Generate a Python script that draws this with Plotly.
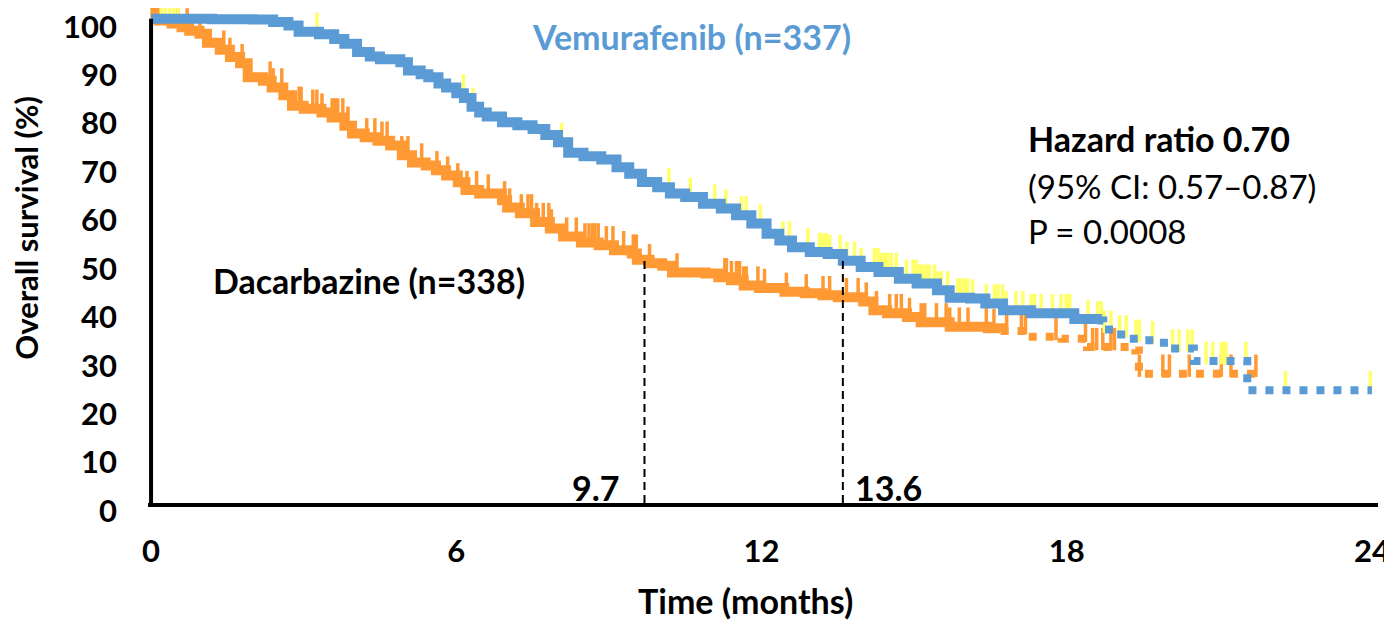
import numpy as np
import plotly.graph_objects as go

# ---------------- data ----------------
# Vemurafenib Kaplan-Meier steps (months, % surviving) - solid part
vem_t = [0, 1.2, 2.0, 2.4, 2.7, 2.9, 3.3, 3.6, 3.8, 4.05, 4.3, 4.5, 4.9, 5.05, 5.3, 5.45,
         5.65, 5.8, 6.0, 6.15, 6.3, 6.45, 6.6, 6.9, 7.2, 7.5, 7.75, 8.0, 8.2, 8.5, 8.85,
         9.15, 9.4, 9.65, 9.95, 10.2, 10.5, 10.85, 11.2, 11.5, 11.8, 12.1, 12.35, 12.6,
         12.95, 13.3, 13.6, 13.95, 14.3, 14.7, 15.05, 15.45, 15.7, 16.1, 16.4, 16.75,
         17.3, 18.15, 18.6]
vem_s = [100, 99.9, 99.8, 99.3, 98.6, 97.3, 96.8, 95.8, 94.8, 93.1, 92.2, 91.6, 91.0, 89.3,
         88.5, 87.9, 86.6, 85.8, 84.6, 83.6, 81.8, 80.6, 79.8, 78.6, 78.0, 77.2, 76.0, 74.5,
         72.3, 71.6, 70.9, 69.3, 68.0, 66.3, 65.2, 63.9, 63.2, 61.8, 60.8, 59.4, 57.7, 55.6,
         54.2, 52.8, 51.8, 51.4, 50.0, 48.7, 47.7, 46.3, 45.3, 43.9, 42.4, 42.2, 41.2, 39.8,
         39.2, 38.0, 37.7]
# Vemurafenib tail (few patients at risk, dotted)
vem_tail_t = [18.6, 18.72, 18.95, 19.2, 19.5, 19.8, 20.0, 20.5, 21.55, 24.0]
vem_tail_s = [37.7, 35.8, 34.8, 33.9, 33.6, 33.1, 31.9, 29.3, 23.3, 23.3]

# Dacarbazine Kaplan-Meier steps - solid part
dac_t = [0, 0.15, 0.4, 0.6, 0.75, 0.95, 1.1, 1.35, 1.55, 1.75, 1.9, 2.2, 2.37, 2.6, 2.77,
         3.0, 3.35, 3.55, 3.8, 3.95, 4.2, 4.45, 4.7, 4.93, 5.13, 5.4, 5.6, 5.8, 6.03, 6.18,
         6.45, 6.9, 7.0, 7.25, 7.55, 7.84, 8.1, 8.45, 8.8, 9.1, 9.45, 9.55, 9.8, 10.05,
         10.24, 10.9, 11.15, 11.4, 11.65, 11.95, 12.45, 12.85, 13.2, 13.5, 14.0, 14.2,
         14.47, 14.86, 15.13, 15.7, 16.45, 16.7]
dac_s = [100, 99.6, 99.0, 98.2, 97.5, 96.9, 95.0, 93.6, 92.1, 90.8, 87.9, 87.2, 85.8, 84.2,
         82.0, 81.4, 80.6, 79.6, 77.9, 76.3, 75.5, 74.8, 73.8, 71.8, 70.3, 69.7, 68.7, 67.6,
         66.2, 64.6, 63.9, 62.5, 61.0, 59.8, 58.0, 56.7, 55.0, 53.8, 53.2, 52.2, 51.5, 50.2,
         49.5, 49.0, 47.6, 47.4, 46.6, 46.0, 44.9, 44.4, 43.6, 43.3, 42.9, 42.5, 41.6, 39.8,
         39.2, 38.4, 37.3, 36.4, 36.1, 35.5]
# Dacarbazine tail (dotted)
dac_tail_t = [16.7, 17.25, 17.9, 18.4, 19.35, 19.42, 21.72]
dac_tail_s = [35.5, 34.3, 33.9, 32.2, 31.5, 26.7, 26.7]

# censoring times (months)
dac_cens = [0.02, 0.08, 0.14, 0.53, 0.71, 0.96, 1.43, 1.55, 1.79, 2.34, 2.4, 2.57, 2.91,
            2.95, 3.18, 3.26, 3.36, 3.56, 3.61, 3.67, 3.77, 3.87, 4.24, 4.4, 4.54, 4.64,
            4.93, 5.05, 5.32, 5.62, 5.83, 6.03, 6.21, 6.4, 6.63, 6.95, 7.05, 7.28, 7.41,
            7.48, 7.58, 7.71, 7.82, 7.87, 8.17, 8.36, 8.53, 8.61, 8.68, 8.72, 8.79, 8.95,
            9.08, 9.29, 9.48, 9.54, 9.8, 10.34, 11.28, 11.31, 11.41, 11.51, 11.57, 11.65,
            11.7, 11.93, 12.06, 12.49, 12.88, 13.21, 13.34, 13.67, 13.9, 14.06, 14.26,
            14.52, 14.65, 14.75, 14.91, 15.14, 15.21, 15.44, 15.63, 15.7, 15.89, 16.06,
            16.42, 16.57, 16.82, 17.11, 17.19, 17.79, 18.37, 18.51, 18.59, 18.71, 18.87,
            18.94, 19.43, 19.89, 20.02, 20.41, 21.04, 21.23, 21.72]
vem_cens = [0.2, 0.28, 0.37, 0.45, 0.53, 3.26, 6.14, 6.33, 8.07, 10.18, 10.6, 11.08, 11.3,
            11.6, 11.7, 11.98, 12.42, 12.55, 12.91, 13.14, 13.21, 13.27, 13.34, 13.55,
            13.68, 13.83, 13.96, 14.22, 14.29, 14.35, 14.42, 14.48, 14.55, 14.65, 14.85,
            14.98, 15.04, 15.11, 15.17, 15.24, 15.3, 15.4, 15.47, 15.53, 15.66, 15.86,
            15.92, 15.99, 16.05, 16.15, 16.42, 16.58, 16.65, 16.74, 16.81, 17.0, 17.14,
            17.3, 17.37, 17.5, 17.72, 17.89, 17.99, 18.06, 18.42, 18.61, 18.68, 18.74,
            18.87, 19.04, 19.17, 19.36, 19.43, 19.69, 20.08, 20.21, 20.38, 20.47, 20.74,
            20.87, 21.04, 21.1, 21.13, 21.52, 22.3, 23.97]

medians = [9.7, 13.6]            # Dacarbazine, Vemurafenib median OS (months)
x_ticks = [0, 6, 12, 18, 24]
y_ticks = list(range(0, 101, 10))

BLUE = "#5B9BD5"
ORANGE = "#FF9933"
YELLOW = "#FFFF66"
FONT = "Lato"
TICK_H = 3.3   # censor tick height (% units)
TICK_PX = 16   # same height in pixels


def km_value(times, surv, t):
    idx = np.searchsorted(np.asarray(times), t, side="right") - 1
    return float(np.asarray(surv)[max(idx, 0)])


def tick_centres(cens, times, surv):
    return [km_value(times, surv, t) + TICK_H / 2 for t in cens]


vem_all_t = vem_t + vem_tail_t[1:]
vem_all_s = vem_s + vem_tail_s[1:]
dac_all_t = dac_t + dac_tail_t[1:]
dac_all_s = dac_s + dac_tail_s[1:]

fig = go.Figure()

# orange censor ticks
fig.add_trace(go.Scatter(x=dac_cens, y=tick_centres(dac_cens, dac_all_t, dac_all_s),
                         mode="markers", cliponaxis=False,
                         marker=dict(symbol="line-ns", size=TICK_PX,
                                     line=dict(color=ORANGE, width=3.5)),
                         hoverinfo="skip", showlegend=False))
# Dacarbazine curve
fig.add_trace(go.Scatter(x=dac_t, y=dac_s, mode="lines", line_shape="hv",
                         line=dict(color=ORANGE, width=10), name="Dacarbazine",
                         showlegend=False))
fig.add_trace(go.Scatter(x=dac_tail_t, y=dac_tail_s, mode="lines", line_shape="hv",
                         line=dict(color=ORANGE, width=8, dash="8px,9px"),
                         showlegend=False))
# yellow censor ticks (Vemurafenib)
fig.add_trace(go.Scatter(x=vem_cens, y=tick_centres(vem_cens, vem_all_t, vem_all_s),
                         mode="markers", cliponaxis=False,
                         marker=dict(symbol="line-ns", size=TICK_PX,
                                     line=dict(color=YELLOW, width=3.5)),
                         hoverinfo="skip", showlegend=False))
# Vemurafenib curve
fig.add_trace(go.Scatter(x=vem_t, y=vem_s, mode="lines", line_shape="hv",
                         line=dict(color=BLUE, width=10), name="Vemurafenib",
                         showlegend=False))
fig.add_trace(go.Scatter(x=vem_tail_t, y=vem_tail_s, mode="lines", line_shape="hv",
                         line=dict(color=BLUE, width=8, dash="8px,9px"),
                         showlegend=False))

# median dashed drop lines
med_vals = [km_value(dac_all_t, dac_all_s, medians[0]), km_value(vem_all_t, vem_all_s, medians[1])]
for m, v in zip(medians, med_vals):
    fig.add_trace(go.Scatter(x=[m, m], y=[0, v], mode="lines",
                             line=dict(color="black", width=2, dash="8px,5px"),
                             hoverinfo="skip", showlegend=False))

# y axis line (only up to 100)
fig.add_shape(type="line", xref="x", yref="y", x0=0, x1=0, y0=0, y1=100,
              line=dict(color="black", width=4), layer="above")

bold = dict(family=FONT, size=34, color="black")
reg = dict(family=FONT, size=33, color="black")
ann = [
    dict(x=10.63, y=96.4, text="<b>Vemurafenib (n=337)</b>", xanchor="center",
         font=dict(family=FONT, size=34, color=BLUE)),
    dict(x=4.29, y=46.0, text="<b>Dacarbazine (n=338)</b>", xanchor="center", font=bold),
    dict(x=17.2, y=75.2, text="<b>Hazard ratio 0.70</b>", xanchor="left", font=bold),
    dict(x=17.2, y=65.4, text="(95% CI: 0.57\u20130.87)", xanchor="left", font=reg),
    dict(x=17.2, y=56.1, text="P = 0.0008", xanchor="left", font=reg),
    dict(x=medians[0], y=3.3, text="<b>9.7</b>", xanchor="right", xshift=-22, font=bold),
    dict(x=medians[1], y=3.3, text="<b>13.6</b>", xanchor="left", xshift=10, font=bold),
]
for a in ann:
    fig.add_annotation(xref="x", yref="y", showarrow=False, yanchor="middle", **a)

# axis titles
fig.add_annotation(xref="paper", yref="paper", x=0.4854, y=0, yshift=-97,
                   text="<b>Time (months)</b>", showarrow=False,
                   xanchor="center", yanchor="middle", font=dict(family=FONT, size=34, color="black"))
fig.add_annotation(xref="paper", yref="paper", x=-0.0992, y=0.556,
                   text="<b>Overall survival (%)</b>", showarrow=False, textangle=-90,
                   xanchor="center", yanchor="middle", font=dict(family=FONT, size=31, color="black"))

fig.update_layout(
    width=1384, height=612,
    margin=dict(l=140, r=14, t=0, b=117),
    paper_bgcolor="white", plot_bgcolor="white",
    showlegend=False,
    xaxis=dict(range=[-0.06, 24.12], tickvals=x_ticks, ticktext=[str(v) for v in x_ticks],
               showgrid=False, zeroline=False, showline=True, linecolor="black", linewidth=4,
               ticks="", ticklabelstandoff=18, ticklabeloverflow="allow", automargin=False,
               tickfont=dict(family=FONT, size=31, color="black", weight="bold")),
    yaxis=dict(range=[0, 102.2], tickvals=y_ticks, ticktext=[str(v) for v in y_ticks],
               showgrid=False, zeroline=False, showline=False, automargin=False,
               ticks="", ticklabelstandoff=30, ticklabelshift=8, ticklabeloverflow="allow",
               tickfont=dict(family=FONT, size=31, color="black", weight="bold")),
)

fig.write_html("out.html")
